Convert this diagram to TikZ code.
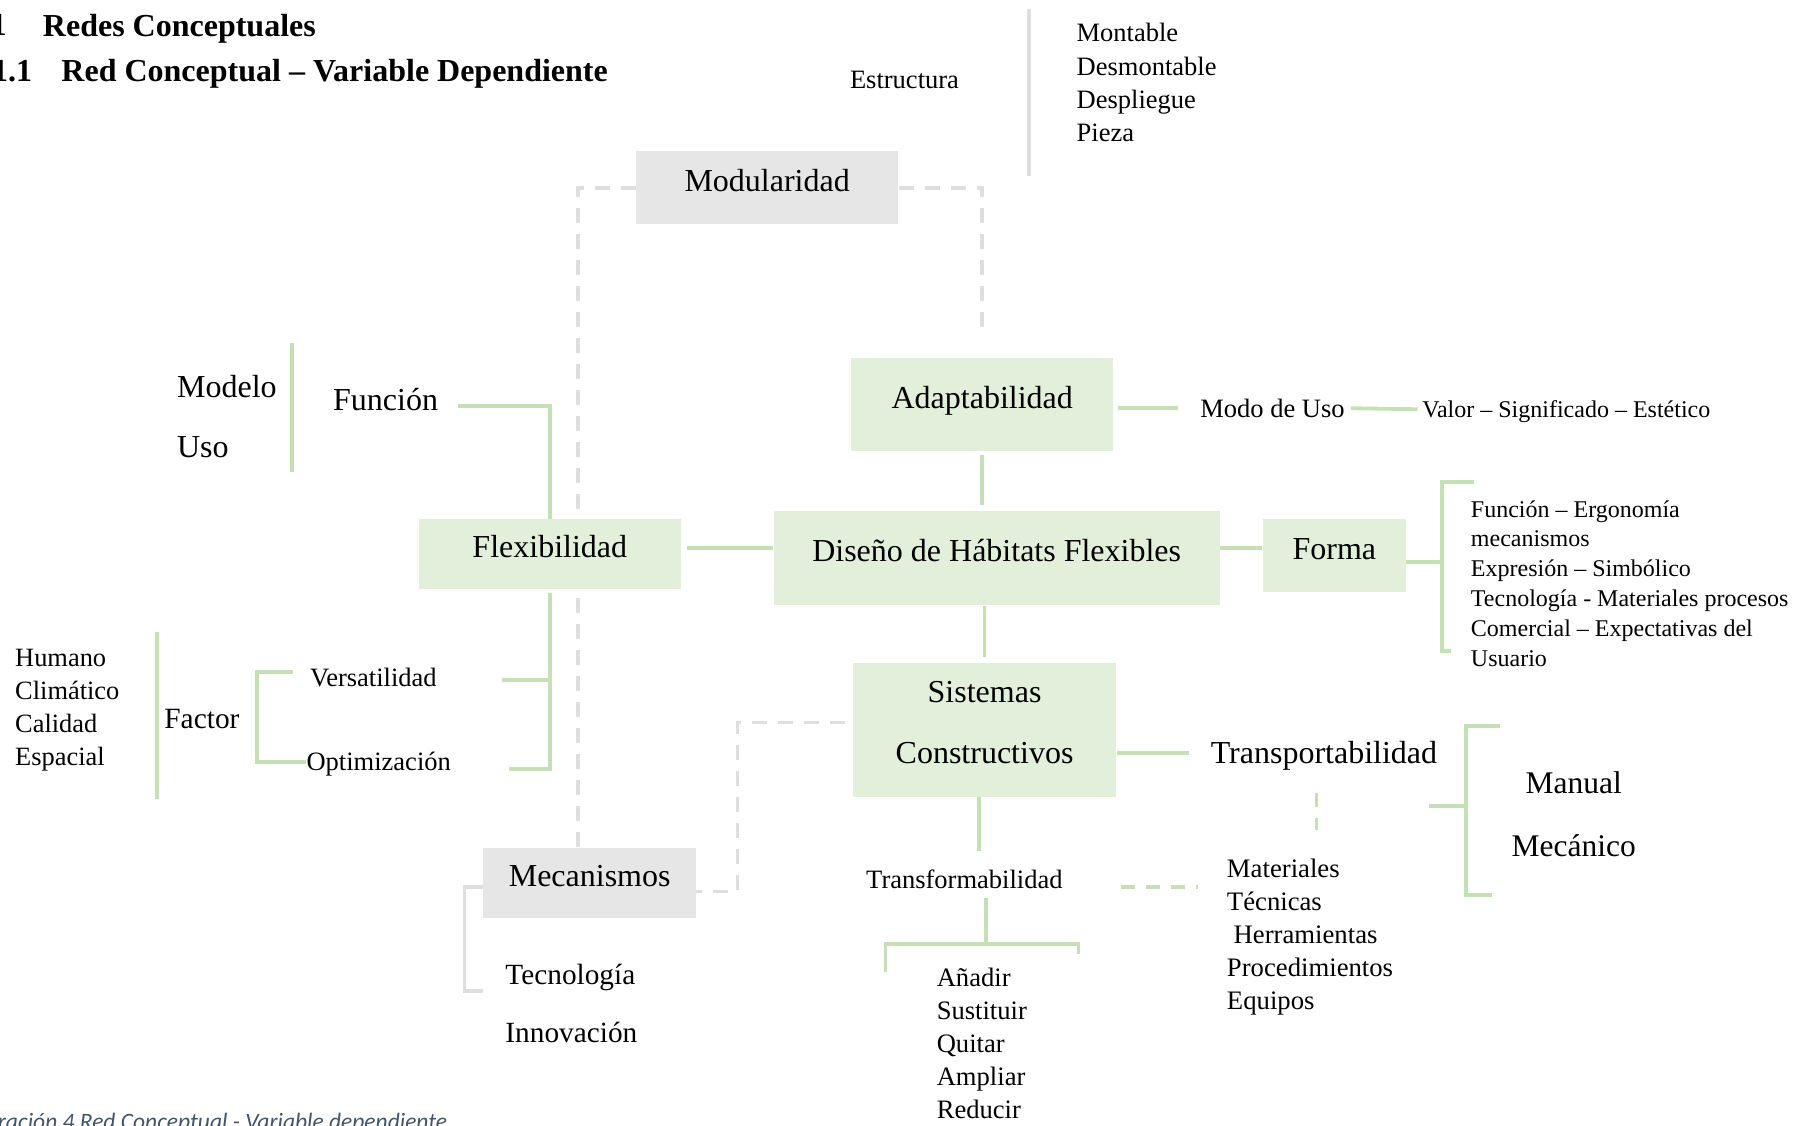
\documentclass[tikz,border=0pt]{standalone}
\usepackage{fontspec}
\setmainfont{Liberation Serif}
\newfontfamily\piefont{Carlito}
\usetikzlibrary{calc,backgrounds}

\definecolor{verdecaja}{HTML}{E2EFDA}
\definecolor{verdelinea}{HTML}{C5E0B4}
\definecolor{griscaja}{HTML}{E6E6E6}
\definecolor{grislinea}{HTML}{DEDEDE}
\definecolor{azulpie}{HTML}{44546A}

\newcommand{\fgrande}{\fontsize{32}{38}\selectfont}
\newcommand{\fmedia}{\fontsize{26.5}{33.4}\selectfont}
\newcommand{\fchica}{\fontsize{24}{29.8}\selectfont}

\tikzset{
    caja/.style = {rectangle, inner sep = 0pt, font = \fgrande},
    cajaverde/.style = {caja, fill = verdecaja},
    cajagris/.style = {caja, fill = griscaja},
    renglon/.style = {text height = 22.4pt, text depth = 15.4pt},
    texto/.style = {inner sep = 0pt, text depth = 0pt, anchor = west},
    lista/.style = {inner sep = 0pt, align = left, anchor = north west},
    linea/.style = {draw = verdelinea, line width = 3.8pt},
    lineagris/.style = {draw = grislinea, line width = 3.5pt},
    guiones/.style = {lineagris, dash pattern = on 15pt off 11pt},
    guionesverde/.style = {linea, dash pattern = on 14pt off 11pt},
}

\begin{document}
\begin{tikzpicture}[x = 1.1563pt, y = -1.1563pt]
    \useasboundingbox (0,0) rectangle (1568,973);

    % titulos
    \node (n1) at (6,22) [texto, anchor = east, font = \bfseries\fgrande] {1};
    \node (t1) at (37,22) [texto, font = \bfseries\fgrande] {Redes Conceptuales};
    \node (n2) at (28,61) [texto, anchor = east, font = \bfseries\fgrande] {1.1};
    \node (t2) at (53,61) [texto, font = \bfseries\fgrande] {Red Conceptual -- Variable Dependiente};

    % cajas
    \node (mod) at (663.5,162.5) [cajagris, renglon, minimum width = 262.5pt, minimum height = 72.8pt] {Modularidad};
    \node (ada) at (849.5,350) [cajaverde, renglon, minimum width = 262.5pt, minimum height = 92.5pt] {Adaptabilidad};
    \node (dis) at (862,482.5) [cajaverde, renglon, minimum width = 446.3pt, minimum height = 93.7pt] {Diseño de Hábitats Flexibles};
    \node (flex) at (475.5,479) [cajaverde, renglon, minimum width = 262.5pt, minimum height = 69.4pt] {Flexibilidad};
    \node (forma) at (1154,480.5) [cajaverde, renglon, minimum width = 143.4pt, minimum height = 72.8pt] {Forma};
    \node (sis) at (851.5,631) [cajaverde, align = center, font = \fontsize{32}{61}\selectfont, minimum width = 262.5pt, minimum height = 134.1pt] {Sistemas\\Constructivos\rule[-15pt]{0pt}{15pt}};
    \node (mec) at (510,763.5) [cajagris, renglon, minimum width = 212.8pt, minimum height = 70.5pt] {Mecanismos};

    % textos
    \node (est) at (735,69) [texto, font = \fmedia] {Estructura};
    \node (el) at (931,20) [lista, font = \fmedia] {Montable\\Desmontable\\Despliegue\\Pieza};
    \node (modo) at (1038,353) [texto, font = \fmedia] {Modo de Uso};
    \node (valor) at (1230,354) [texto, font = \fchica] {Valor -- Significado -- Estético};
    \node (fl) at (1272,432.7) [lista, font = \fchica] {Función -- Ergonomía\\mecanismos\\Expresión -- Simbólico\\Tecnología - Materiales procesos\\Comercial -- Expectativas del\\Usuario};
    \node (fun) at (288,345) [texto, font = \fgrande] {Función};
    \node (mu) at (153,324.3) [lista, font = \fontsize{32}{60}\selectfont] {Modelo\\Uso};
    \node (vers) at (268,586) [texto, font = \fmedia] {Versatilidad};
    \node (opt) at (265,658) [texto, font = \fmedia] {Optimización};
    \node (fac) at (142,622) [texto, font = \fontsize{29.4}{35}\selectfont] {Factor};
    \node (hum) at (13,561) [lista, font = \fontsize{26.4}{33.2}\selectfont] {Humano\\Climático\\Calidad\\Espacial};
    \node (tra) at (1047,651) [texto, font = \fgrande] {Transportabilidad};
    \node (mm) at (1361,667.5) [inner sep = 0pt, align = center, anchor = north, font = \fontsize{31.5}{62.4}\selectfont] {Manual\\Mecánico};
    \node (mat) at (1061,743) [lista, font = \fontsize{26.7}{33}\selectfont] {Materiales\\Técnicas\\~Herramientas\\Procedimientos\\Equipos};
    \node (trf) at (749,760) [texto, font = \fmedia] {Transformabilidad};
    \node (anad) at (810,837) [lista, font = \fontsize{26.6}{33}\selectfont] {Añadir\\Sustituir\\Quitar\\Ampliar\\Reducir};
    \node (tec) at (437,834) [lista, font = \fontsize{29.3}{58}\selectfont] {Tecnología\\Innovación};
    \node (pie) at (387,977) [inner sep = 0pt, anchor = base east, text = azulpie, font = \piefont\itshape\fontsize{23.5}{28}\selectfont] {Ilustración 4 Red Conceptual - Variable dependiente};

    \begin{scope}[on background layer]
        % grises
        \draw [guiones] (mod.west) -| ($(mec.north)+(-10,0)$);
        \draw [guiones, shorten > = 23pt] (mod.east) -| (ada.north);
        \draw [guiones, shorten < = 8pt] ($(sis.west)+(0,-6)$) -- ++(-100,0) |- ($(mec.east)+(0,7.5)$);
        \draw [lineagris] ($(mec.west)+(0,3.5)$) -- ++(-16,0) |- ($(tec.north west)+(-19,23)$);
        \draw [lineagris] ($(el.north west)+(-41,-12)$) -- ++(0,144);

        % verdes
        \draw [linea, shorten < = 4pt, shorten > = 22pt] (ada.east |- modo.west) -- (modo.west);
        \draw [linea, shorten < = 6pt, shorten > = 4.5pt] (modo.east) -- (valor.west);
        \draw [linea, shorten < = 3.5pt, shorten > = 6pt] (ada.south) -- (ada.south |- dis.north);
        \draw [linea, shorten < = 5.8pt] ($(flex.east)+(0,-5)$) -- ($(flex.east -| dis.west)+(0,-5)$);
        \draw [linea] ($(dis.east |- forma.west)+(0,-6.5)$) -- ($(forma.west)+(0,-6.5)$);
        \draw [linea] ($(forma.east)+(0,5.5)$) -- ++(31,0);
        \draw [linea] ($(fl.north west)+(3,-15.7)$) -- ++(-28,0) -- ++(0,146) -- ++(8,0);
        \draw [linea] (flex.north) |- ($(fun.east)+(17,6)$);
        \draw [linea] ($(mu.north east)+(13,-28)$) -- ++(0,112);
        \draw [linea, shorten < = 4pt] (flex.south) |- ($(opt.east)+(50,7)$);
        \draw [linea] ($(vers.east)+(56,2)$) -- ($(vers.east -| flex.south)+(0,2)$);
        \draw [linea] ($(vers.west)+(-15,-5)$) -- ++(-31,0) |- ($(opt.west)+(0,1)$);
        \draw [linea] ($(fac.west)+(-6,-75)$) -- ++(0,144);
        \draw [linea, shorten < = 1pt, shorten > = 5.8pt] (sis.north |- dis.south) -- (sis.north);
        \draw [linea, shorten < = 1pt, shorten > = 22pt] (tra.west -| sis.east) -- (tra.west);
        \draw [linea] ($(mm.north west)+(-10,-39.5)$) -- ++(-29,0) -- ++(0,146) -- ++(22,0);
        \draw [linea] ($(mm.north west)+(-39,29.5)$) -- ++(-32,0);
        \draw [guionesverde, shorten < = 29pt, shorten > = 29pt] ($(tra.south)+(-6.5,0)$) -- ($(tra.south |- mat.north)+(-6.5,0)$);
        \draw [guionesverde, shorten < = 58pt, shorten > = 29pt] ($(trf.east)+(0,7)$) -- ($(trf.east -| mat.west)+(0,7)$);
        \draw [linea, shorten > = 18.5pt] ($(sis.south)+(-4.5,0)$) -- ($(sis.south |- trf.north)+(-4.5,0)$);
        \draw [linea] ($(trf.south)+(18.7,8)$) -- ++(0,40);
        \draw [linea] ($(trf.south)+(-68.3,72)$) -- ++(0,-24) -- ++(167,0) -- ++(0,9);
    \end{scope}
\end{tikzpicture}
\end{document}
